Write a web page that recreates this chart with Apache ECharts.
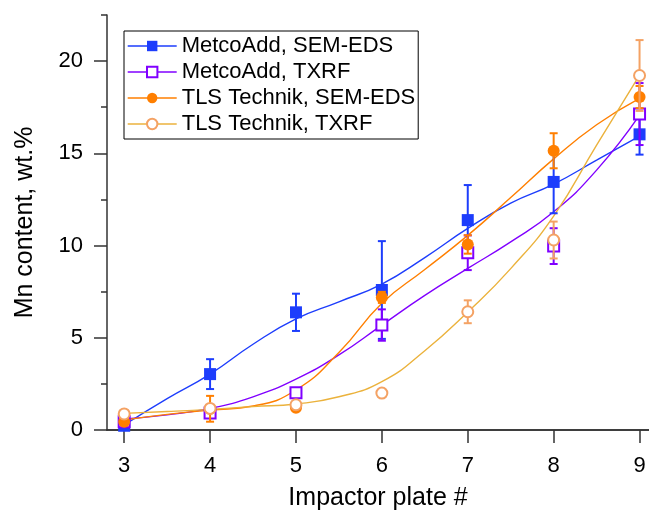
<!DOCTYPE html>
<html>
<head>
<meta charset="utf-8">
<script src="https://cdn.jsdelivr.net/npm/echarts@6/dist/echarts.min.js"></script>
<style>
  html, body { margin: 0; padding: 0; background: #fff; }
  #chart { width: 649px; height: 510px; }
</style>
</head>
<body>
<div id="chart"></div>
<script>
// impactor plate numbers
const plates = [3, 4, 5, 6, 7, 8, 9]
const xTicks = [3, 4, 5, 6, 7, 8, 9]
const yTicks = [0, 5, 10, 15, 20]

// measured Mn content, wt.% and their errors
const metcoSem = [0.23, 3.03, 6.38, 7.59, 11.38, 13.45, 16.03]
const metcoSemErr = [0, 0.81, 1.01, 2.65, 1.9, 1.7, 1.1]
const metcoTxrf = [0.45, 0.92, 2.02, 5.69, 9.61, 9.97, 17.13]
const metcoTxrfErr = [0, 0, 0, 0.85, 0.94, 0.97, 1.68]
const tlsSem = [0.45, 1.15, 1.2, 7.19, 10.06, 15.14, 18.05]
const tlsSemErr = [0, 0.7, 0, 0.3, 0.5, 0.95, 0.6]
const tlsTxrf = [0.87, 1.17, 1.37, 2.0, 6.41, 10.3, 19.22]
const tlsTxrfErr = [0, 0, 0, 0, 0.62, 1.0, 1.92]

const fitX = [3, 3.5, 4, 4.5, 5, 5.5, 6, 6.5, 7, 7.5, 8, 8.5, 9]
const metcoSemFit = [0.27, 1.7, 3.03, 4.65, 6.02, 6.95, 7.91, 9.35, 10.93, 12.3, 13.33, 14.63, 15.93]
const metcoTxrfFit = [0.6, 0.82, 1.17, 1.8, 2.76, 4.07, 5.69, 7.3, 8.76, 10.2, 11.83, 14.09, 17.07]
const tlsSemFit = [0.54, 0.85, 1.08, 1.3, 2.17, 4.2, 6.87, 8.7, 10.55, 12.6, 14.7, 16.55, 17.98]
const tlsTxrfFit = [0.9, 1.0, 1.12, 1.27, 1.41, 1.8, 2.62, 4.3, 6.4, 8.75, 11.6, 15.45, 19.24]

const names = ['MetcoAdd, SEM-EDS', 'MetcoAdd, TXRF', 'TLS Technik, SEM-EDS', 'TLS Technik, TXRF']
const markerColors = ['#1d3dfc', '#8000ff', '#ff7f00', '#f4a264']
const curveColors = ['#1d3dfc', '#8000ff', '#ff7f00', '#ebb23c']
const symbols = ['rect', 'emptyRect', 'circle', 'emptyCircle']
const values = [metcoSem, metcoTxrf, tlsSem, tlsTxrf]
const errors = [metcoSemErr, metcoTxrfErr, tlsSemErr, tlsTxrfErr]
const fits = [metcoSemFit, metcoTxrfFit, tlsSemFit, tlsTxrfFit]

const font = 'Liberation Sans, Arial, sans-serif'
const axisColor = '#333'
const chart = echarts.init(document.getElementById('chart'))

const series = []
fits.forEach((fit, i) => {
  series.push({
    name: names[i] + ' fit',
    type: 'line',
    smooth: 0.5,
    symbol: 'none',
    silent: true,
    data: fitX.map((x, k) => [x, fit[k]]),
    lineStyle: { color: curveColors[i], width: 1.4 },
    z: 2
  })
})
values.forEach((vals, i) => {
  series.push({
    name: names[i] + ' err',
    type: 'custom',
    silent: true,
    data: plates.map((x, k) => [x, vals[k], errors[i][k]]),
    renderItem(params, api) {
      const err = api.value(2)
      if (!err) return null
      const x = api.value(0)
      const y = api.value(1)
      const top = api.coord([x, y + err])
      const bot = api.coord([x, y - err])
      const style = { stroke: markerColors[i], lineWidth: 2 }
      return {
        type: 'group',
        children: [
          { type: 'line', shape: { x1: top[0], y1: top[1], x2: bot[0], y2: bot[1] }, style },
          { type: 'line', shape: { x1: top[0] - 4, y1: top[1], x2: top[0] + 4, y2: top[1] }, style },
          { type: 'line', shape: { x1: bot[0] - 4, y1: bot[1], x2: bot[0] + 4, y2: bot[1] }, style }
        ]
      }
    },
    z: 3 + i
  })
  series.push({
    name: names[i],
    type: 'line',
    data: plates.map((x, k) => [x, vals[k]]),
    symbol: symbols[i],
    symbolSize: i % 2 ? 11 : 12,
    lineStyle: { opacity: 0 },
    itemStyle: { color: markerColors[i], borderWidth: i % 2 ? 2.5 : 0 },
    z: 3 + i
  })
})

chart.setOption({
  animation: false,
  textStyle: { fontFamily: font },
  grid: { left: 107, top: 15, right: 0, bottom: 80, containLabel: false, outerBoundsMode: 'none' },
  legend: {
    orient: 'vertical',
    left: 124,
    top: 31,
    padding: [4, 3, 4, 3],
    itemGap: 4,
    itemWidth: 49,
    itemHeight: 13,
    borderColor: '#000',
    borderWidth: 1,
    textStyle: { fontSize: 22, color: '#000', fontFamily: font, lineHeight: 22 },
    data: names.map((n, i) => ({
      name: n,
      lineStyle: { color: curveColors[i], width: 1.4, opacity: 1 }
    }))
  },
  xAxis: [{
    type: 'value',
    min: 2.8,
    max: 9.11,
    name: 'Impactor plate #',
    nameLocation: 'middle',
    nameGap: 56,
    nameTextStyle: { fontSize: 25, color: '#000' },
    axisLine: { lineStyle: { color: axisColor, width: 1.5 } },
    axisTick: { customValues: xTicks, length: 13, lineStyle: { color: axisColor, width: 1.5 } },
    axisLabel: { customValues: xTicks, fontSize: 22, color: '#000', margin: 25 },
    splitLine: { show: false }
  }, {
    type: 'value',
    position: 'top',
    min: 2.8,
    max: 9.11,
    axisLine: { lineStyle: { color: axisColor, width: 1.5 } },
    axisTick: { show: false },
    axisLabel: { show: false },
    splitLine: { show: false }
  }],
  yAxis: [{
    type: 'value',
    min: 0,
    max: 22.5,
    interval: 2.5,
    name: 'Mn content, wt.%',
    nameLocation: 'middle',
    nameGap: 69,
    nameTextStyle: { fontSize: 25, color: '#000' },
    axisLine: { show: true, lineStyle: { color: axisColor, width: 1.5 } },
    axisTick: { show: true, customValues: yTicks, length: 13, lineStyle: { color: axisColor, width: 1.5 } },
    axisLabel: { customValues: yTicks, fontSize: 22, color: '#000', margin: 24 },
    splitLine: { show: false }
  }, {
    // minor ticks every 2.5
    type: 'value',
    position: 'left',
    min: 0,
    max: 22.5,
    interval: 2.5,
    axisLine: { show: false },
    axisTick: { show: true, length: 6, lineStyle: { color: axisColor, width: 1.5 } },
    axisLabel: { show: false },
    splitLine: { show: false }
  }],
  series
})
</script>
</body>
</html>
